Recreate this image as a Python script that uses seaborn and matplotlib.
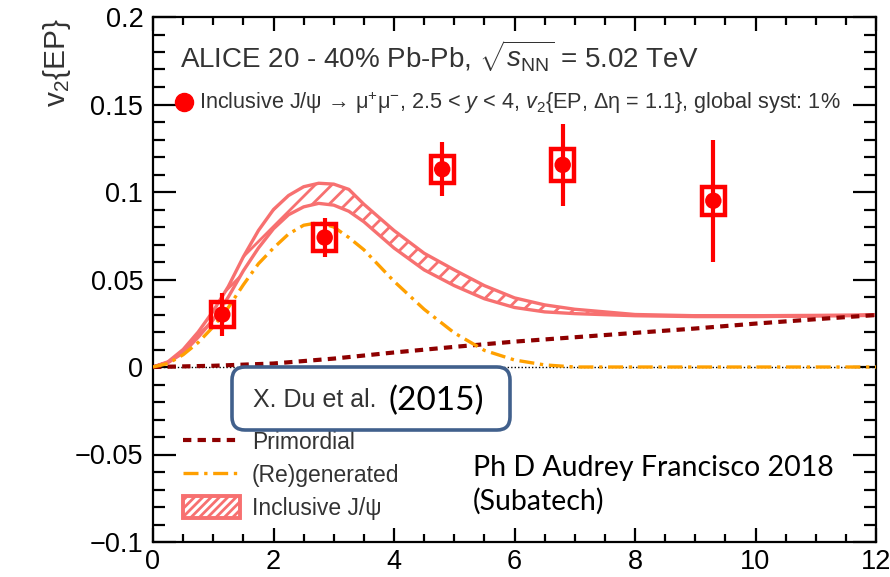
import matplotlib
matplotlib.use("Agg")
import matplotlib.pyplot as plt
import seaborn as sns
from matplotlib.patches import Rectangle, FancyBboxPatch, Patch
from matplotlib.lines import Line2D
from matplotlib.ticker import FixedLocator, FixedFormatter, MultipleLocator

# ---- ALICE inclusive J/psi v2{EP}, 20-40% Pb-Pb, 2.5 < y < 4 ----
pt_data = [1.15, 2.85, 4.8, 6.8, 9.3]
v2_data = [0.030, 0.074, 0.113, 0.1155, 0.095]
v2_stat = [0.0125, 0.011, 0.0155, 0.0235, 0.035]
v2_syst = [0.007, 0.0075, 0.0077, 0.009, 0.008]

# ---- transport model curves (X. Du et al.) ----
pt_model = [0.0, 0.25, 0.5, 0.75, 1.0, 1.25, 1.5, 1.75, 2.0, 2.25, 2.5, 2.75,
            3.0, 3.25, 3.5, 3.75, 4.0, 4.5, 5.0, 5.5, 6.0, 6.5, 7.0, 8.0,
            9.0, 10.0, 11.0, 12.0]
v2_incl_upper = [0.0, 0.003, 0.010, 0.020, 0.032, 0.046, 0.063, 0.078, 0.090,
                 0.098, 0.103, 0.105, 0.1045, 0.1015, 0.093, 0.0855, 0.078,
                 0.065, 0.0555, 0.0465, 0.0395, 0.0355, 0.033, 0.030, 0.0293,
                 0.0293, 0.0295, 0.0298]
v2_incl_lower = [0.0, 0.0025, 0.008, 0.017, 0.027, 0.040, 0.055, 0.068, 0.079,
                 0.087, 0.0915, 0.0935, 0.0925, 0.089, 0.083, 0.0755, 0.068,
                 0.0555, 0.0465, 0.039, 0.034, 0.0315, 0.0305, 0.0293, 0.0288,
                 0.0288, 0.0291, 0.0295]
v2_regen = [0.0, 0.002, 0.007, 0.014, 0.023, 0.034, 0.047, 0.059, 0.068,
            0.076, 0.081, 0.0825, 0.080, 0.074, 0.067, 0.058, 0.049, 0.033,
            0.0195, 0.0095, 0.004, 0.0012, 0.0, 0.0, 0.0, 0.0, 0.0, 0.0]
pt_prim = [0, 1, 2, 3, 4, 5, 6, 7, 8, 9, 10, 11, 12]
v2_prim = [0.0, 0.0007, 0.002, 0.0048, 0.0083, 0.0115, 0.0145, 0.017, 0.0195,
           0.022, 0.0248, 0.0273, 0.0297]

x_ticks = [0, 2, 4, 6, 8, 10, 12]
x_ticklabels = ["0", "2", "4", "6", "8", "10", "12"]
y_ticks = [-0.1, -0.05, 0.0, 0.05, 0.1, 0.15, 0.2]
y_ticklabels = ["\u22120.1", "\u22120.05", "0", "0.05", "0.1", "0.15", "0.2"]

RED = "#ff0000"
PINK = "#f77070"
ORANGE = "#ffa000"
DARKRED = "#8e0000"
TEXT = "#333333"

sns.set_theme(style="ticks")
plt.rcParams["font.family"] = ["Liberation Sans", "DejaVu Sans"]
plt.rcParams["mathtext.fontset"] = "custom"
plt.rcParams["mathtext.rm"] = "Liberation Sans"
plt.rcParams["mathtext.it"] = "Liberation Sans:italic"
plt.rcParams["mathtext.sf"] = "Liberation Sans"
plt.rcParams["hatch.linewidth"] = 2.0

fig = plt.figure(figsize=(8.9, 5.77), dpi=100)
ax = fig.add_axes([153 / 890, 35 / 577, 723 / 890, 525 / 577])

# zero reference line
ax.axhline(0, color="black", lw=1.0, ls=(0, (1, 1.5)), zorder=1)

# inclusive band
ax.fill_between(pt_model, v2_incl_lower, v2_incl_upper, facecolor="none",
                edgecolor=PINK, hatch="//", lw=2.4, zorder=2)

# primordial and regenerated components
sns.lineplot(x=pt_prim, y=v2_prim, ax=ax, color=DARKRED, lw=3,
             linestyle=(0, (2, 1.5)), legend=False, zorder=3)
sns.lineplot(x=pt_model, y=v2_regen, ax=ax, color=ORANGE, lw=2.4,
             linestyle=(0, (4.5, 1.7, 1, 1.7)), legend=False, zorder=3)

# data: systematic boxes, statistical bars, markers
for x, y, s in zip(pt_data, v2_data, v2_syst):
    ax.add_patch(Rectangle((x - 0.19, y - s), 0.38, 2 * s, fill=False,
                           edgecolor=RED, lw=3.2, zorder=4))
ax.errorbar(pt_data, v2_data, yerr=v2_stat, fmt="none", ecolor=RED,
            elinewidth=3.0, capsize=0, zorder=5)
sns.scatterplot(x=pt_data, y=v2_data, ax=ax, color=RED, s=140,
                edgecolor="none", zorder=6, legend=False)

# axes
ax.set_xlim(0, 12)
ax.set_ylim(-0.1, 0.2)
ax.xaxis.set_major_locator(FixedLocator(x_ticks))
ax.xaxis.set_major_formatter(FixedFormatter(x_ticklabels))
ax.xaxis.set_minor_locator(MultipleLocator(0.5))
ax.yaxis.set_major_locator(FixedLocator(y_ticks))
ax.yaxis.set_major_formatter(FixedFormatter(y_ticklabels))
ax.yaxis.set_minor_locator(MultipleLocator(0.01))
ax.tick_params(which="both", direction="in", top=True, right=True,
               width=1.6, color="black", labelcolor="black")
ax.tick_params(axis="x", which="major", length=10, labelsize=19.5, pad=5)
ax.tick_params(axis="x", which="minor", length=6)
ax.tick_params(axis="y", which="major", length=16.5, labelsize=19.5, pad=7)
ax.tick_params(axis="y", which="minor", length=8.5)
for sp in ax.spines.values():
    sp.set_linewidth(1.6)
    sp.set_color("black")
    sp.set_visible(True)

ax.set_xlabel("")
ax.set_ylabel(r"$\mathregular{v_{2}}${EP}", fontsize=21.5, loc="top",
              color=TEXT)
ax.yaxis.set_label_coords(-0.111, 0.998)

# header text
ax.text(0.037, 0.903,
        r"ALICE 20 - 40% Pb-Pb, $\sqrt{s_{\mathregular{NN}}}$ = 5.02 TeV",
        transform=ax.transAxes, fontsize=20, color=TEXT, va="baseline",
        ha="left")

# data legend
h_data = Line2D([], [], ls="none", marker="o", color=RED, ms=13)
leg1 = ax.legend(
    [h_data],
    [r"Inclusive J/ψ → μ$^{+}$μ$^{-}$, 2.5 < $y$ < 4, $v_{2}${EP, Δη = 1.1}, global syst: 1%"],
    loc="center left", bbox_to_anchor=(0.03, 0.836), frameon=False,
    fontsize=15.6, handlelength=0.9, handletextpad=0.2, borderpad=0,
    borderaxespad=0, labelcolor=TEXT)
ax.add_artist(leg1)

# model legend
h_prim = Line2D([], [], color=DARKRED, lw=3, ls=(0, (2, 1.5)))
h_regen = Line2D([], [], color=ORANGE, lw=2.4, ls=(0, (4.5, 1.7, 1, 1.7)))
h_incl = Patch(facecolor="none", edgecolor=PINK, hatch="////", lw=2.8)
leg2 = ax.legend([h_prim, h_regen, h_incl],
                 ["Primordial", "(Re)generated", "Inclusive J/ψ"],
                 loc="center left", bbox_to_anchor=(0.0415, 0.1276),
                 frameon=False, fontsize=16.5, handlelength=2.5,
                 handleheight=1.1, handletextpad=0.5, labelspacing=0.4,
                 borderpad=0, borderaxespad=0, labelcolor=TEXT)

# reference box over the legend header
box = FancyBboxPatch((2.32, 1.47), 2.78, 0.63,
                     boxstyle="round,pad=0,rounding_size=0.13",
                     transform=fig.dpi_scale_trans, facecolor="white",
                     edgecolor="#41608c", lw=2.6, zorder=8, clip_on=False)
ax.add_patch(box)
ax.text(2.53, 5.77 - 4.07, "X. Du et al.", transform=fig.dpi_scale_trans,
        fontsize=18, color=TEXT, va="baseline", ha="left", zorder=9)
ax.text(3.88, 5.77 - 4.10, "(2015)", transform=fig.dpi_scale_trans,
        fontsize=24, color="black", va="baseline", ha="left", zorder=9,
        family=["Lato", "DejaVu Sans"])

# author note
ax.text(4.73, 5.77 - 4.76, "Ph D Audrey Francisco 2018",
        transform=fig.dpi_scale_trans, fontsize=20.5, color="black",
        va="baseline", ha="left", family=["Lato", "DejaVu Sans"], zorder=9)
ax.text(4.73, 5.77 - 5.10, "(Subatech)",
        transform=fig.dpi_scale_trans, fontsize=20.5, color="black",
        va="baseline", ha="left", family=["Lato", "DejaVu Sans"], zorder=9)

fig.savefig("out.png", dpi=100)
